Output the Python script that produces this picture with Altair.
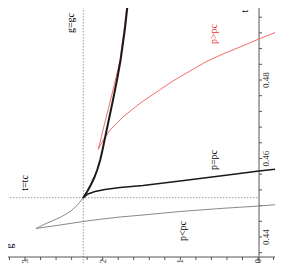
import altair as alt
import pandas as pd

# ---- data (g on the horizontal axis, decreasing to the right; t vertical) ----
gc = 1.0225
tc = 0.45

# black thick branch g -> gc (t > tc)
up_g = [1.022533, 1.022030, 1.021528, 1.021078, 1.020704, 1.020318, 1.020022,
        1.019352, 1.018670, 1.018155, 1.017692, 1.017151, 1.016726, 1.016584]
up_t = [0.449936, 0.451465, 0.453249, 0.455159, 0.457070, 0.459618, 0.462166,
        0.468535, 0.474905, 0.480000, 0.485096, 0.492739, 0.500383, 0.502931]

# red approximation along the thick branch
ra_g = [1.020563, 1.019958, 1.019314, 1.018670, 1.018026, 1.017769, 1.017254,
        1.016803, 1.016674]
ra_t = [0.462344, 0.467261, 0.472357, 0.477453, 0.482803, 0.485096, 0.492739,
        0.500383, 0.502931]

# red p>pc curve
pg_g = [1.020563, 1.020344, 1.019919, 1.019056, 1.017344, 1.015194, 1.013005,
        1.010945, 1.008756, 1.006696, 1.004508, 1.002319, 0.999873, 0.996525]
pg_t = [0.462344, 0.463185, 0.464714, 0.467261, 0.470650, 0.474064, 0.477020,
        0.479746, 0.482293, 0.484637, 0.486625, 0.488408, 0.490446, 0.493121]

# black p=pc curve
pe_g = [1.022533, 1.021889, 1.020988, 1.019700, 1.017769, 1.014808, 1.010044,
        1.004894, 0.999872, 0.996525]
pe_t = [0.449936, 0.450955, 0.451592, 0.452102, 0.452611, 0.453121, 0.454268,
        0.455542, 0.456815, 0.457580]

# gray curve below tc
lo_g = [1.022533, 1.022919, 1.023305, 1.023949, 1.024592, 1.025494, 1.026395,
        1.027425, 1.028069, 1.028584]
lo_t = [0.449936, 0.448917, 0.448026, 0.446879, 0.445987, 0.444968, 0.444204,
        0.443312, 0.442675, 0.442166]

# gray p<pc line
pl_g = [1.028584, 1.025494, 1.021631, 1.017769, 1.014808, 1.010044, 1.004894,
        0.999872, 0.996525]
pl_t = [0.442166, 0.443057, 0.444204, 0.445096, 0.445605, 0.446497, 0.447261,
        0.447898, 0.448408]

g_major = [1.03, 1.02, 1.01, 1.00]
g_labels = ["1.03", "1.02", "1.01", "0"]
g_minor = [1.032, 1.028, 1.026, 1.024, 1.022, 1.018, 1.016, 1.014, 1.012,
           1.008, 1.006, 1.004, 1.002, 0.998]
t_major = [0.44, 0.46, 0.48, 0.50]
t_labels = ["0.44", "0.46", "0.48", "0.5"]
t_minor = [0.436, 0.444, 0.448, 0.452, 0.456, 0.464, 0.468, 0.472, 0.476,
           0.484, 0.488, 0.492, 0.496]

ann_text = ["g=gc", "t=tc", "g", "t", "p>pc", "p=pc", "p<pc"]
ann_g = [1.024078, 1.03, 1.031931, 1.001675, 1.005666, 1.005666, 1.009658]
ann_t = [0.494522, 0.453758, 0.437707, 0.497580, 0.491720, 0.459618, 0.441529]
ann_col = ["black", "black", "black", "black", "#ee3333", "black", "black"]

# ---- scales / layout ----
G_LO, G_HI = 0.997812, 1.032189
T_LO, T_HI = 0.433376, 0.498344
W, H = 267, 255
PXG = (G_HI - G_LO) / W
PXT = (T_HI - T_LO) / H
T_AX = 0.434904   # horizontal axis line (t value)
G_AX = 0.99987    # vertical axis line (g value)

xs = alt.Scale(domain=[G_LO, G_HI], reverse=True, nice=False, zero=False)
ys = alt.Scale(domain=[T_LO, T_HI], nice=False, zero=False)


def line(gs, ts, color, width, dash=None):
    df = pd.DataFrame({"g": gs, "t": ts, "i": range(len(gs))})
    kw = dict(color=color, strokeWidth=width, clip=True)
    if dash:
        kw["strokeDash"] = dash
    return alt.Chart(df).mark_line(**kw).encode(
        x=alt.X("g:Q", scale=xs, axis=None),
        y=alt.Y("t:Q", scale=ys, axis=None),
        order="i:Q",
    )


def rules(df, color, width, dash=None):
    kw = dict(color=color, strokeWidth=width, clip=True)
    if dash:
        kw["strokeDash"] = dash
    return alt.Chart(df).mark_rule(**kw).encode(
        x=alt.X("x1:Q", scale=xs, axis=None), x2="x2:Q",
        y=alt.Y("y1:Q", scale=ys, axis=None), y2="y2:Q",
    )


# dotted reference lines
ref_df = pd.DataFrame({
    "x1": [gc, G_HI + 10 * PXG], "x2": [gc, G_AX],
    "y1": [T_HI + 10 * PXT, tc], "y2": [T_LO - 10 * PXT, tc],
})
ref = rules(ref_df, "#999999", 1, [1.5, 1.5])

# axis lines
ax_df = pd.DataFrame({
    "x1": [G_HI + 10 * PXG, G_AX], "x2": [G_LO - 10 * PXG, G_AX],
    "y1": [T_AX, T_HI + 10 * PXT], "y2": [T_AX, T_AX - 5 * PXT],
})
axes = rules(ax_df, "#555555", 1)

# ticks
gt = g_major + g_minor
tt = t_major + t_minor
tick_df = pd.DataFrame({
    "x1": gt + [G_AX] * len(tt),
    "x2": gt + [G_AX - 3 * PXG] * len(tt),
    "y1": [T_AX] * len(gt) + tt,
    "y2": [T_AX - 3 * PXT] * len(gt) + tt,
})
ticks = rules(tick_df, "#555555", 1)

# tick labels
gl_df = pd.DataFrame({"g": g_major, "t": [T_AX - 2 * PXT] * 4, "s": g_labels})
gl = alt.Chart(gl_df).mark_text(
    angle=270, align="right", baseline="middle", font="Liberation Serif",
    fontSize=9, color="#333333"
).encode(x=alt.X("g:Q", scale=xs, axis=None), y=alt.Y("t:Q", scale=ys, axis=None), text="s:N")

tl_df = pd.DataFrame({"g": [G_AX - 3 * PXG] * 4, "t": t_major, "s": t_labels})
tl = alt.Chart(tl_df).mark_text(
    angle=270, align="center", baseline="top", font="Liberation Serif",
    fontSize=9, color="#333333"
).encode(x=alt.X("g:Q", scale=xs, axis=None), y=alt.Y("t:Q", scale=ys, axis=None), text="s:N")

ann_df = pd.DataFrame({"g": ann_g, "t": ann_t, "s": ann_text, "c": ann_col})
ann = alt.Chart(ann_df).mark_text(
    angle=270, align="center", baseline="middle", font="Liberation Serif", fontSize=10
).encode(
    x=alt.X("g:Q", scale=xs, axis=None), y=alt.Y("t:Q", scale=ys, axis=None),
    text="s:N", color=alt.Color("c:N", scale=None),
)

chart = alt.layer(
    ref,
    axes,
    ticks,
    line(pl_g, pl_t, "#8a8a8a", 1),
    line(lo_g, lo_t, "#8a8a8a", 1),
    line(pg_g, pg_t, "#f26d6d", 1),
    line(ra_g, ra_t, "#f26d6d", 1),
    line(pe_g, pe_t, "#1a1a1a", 1.5),
    line(up_g, up_t, "#1a1a1a", 2),
    gl, tl, ann,
).properties(
    width=W, height=H, padding=0, autosize=alt.AutoSizeParams(type="none"),
    background="white",
).configure_view(stroke=None)

chart.save("out.html", embed_options={"renderer": "svg", "actions": False})
